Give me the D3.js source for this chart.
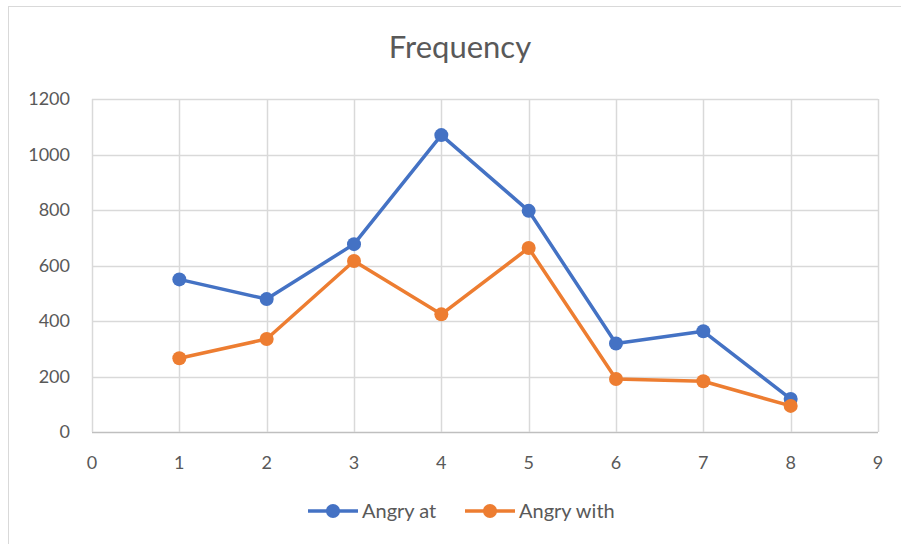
<!DOCTYPE html>
<html>
<head>
<meta charset="utf-8">
<script src="https://cdn.jsdelivr.net/npm/d3@7"></script>
<style>
  body { margin: 0; background: #fff; }
  text { font-family: Lato, "Open Sans", sans-serif; fill: #595959; }
</style>
</head>
<body>
<svg id="chart" width="901" height="544"></svg>
<script>
// data
const xValues = [1, 2, 3, 4, 5, 6, 7, 8];
const angryAt = [550, 479, 677, 1070, 797, 319, 363, 119];
const angryWith = [266, 335, 616, 424, 663, 191, 183, 94];
const xTicks = [0, 1, 2, 3, 4, 5, 6, 7, 8, 9];
const yTicks = [0, 200, 400, 600, 800, 1000, 1200];
const seriesNames = ["Angry at", "Angry with"];
const seriesColors = ["#4472C4", "#ED7D31"];

var svg = d3.select("#chart");
const plotLeft = 92, plotRight = 878, plotTop = 99, plotBottom = 432;

// chart border
svg.append("rect")
  .attr("x", 8.5).attr("y", 6.5)
  .attr("width", 1000).attr("height", 1000)
  .attr("fill", "none").attr("stroke", "#d9d9d9");

var x = d3.scaleLinear().domain([0, 9]).range([plotLeft, plotRight]);
var y = d3.scaleLinear().domain([0, 1200]).range([plotBottom, plotTop]);

// gridlines
svg.append("g").selectAll("line").data(yTicks).join("line")
  .attr("x1", plotLeft).attr("x2", plotRight)
  .attr("y1", (d) => Math.round(y(d)) + 0.5).attr("y2", (d) => Math.round(y(d)) + 0.5)
  .attr("stroke", (d) => (d === 0 ? "#bfbfbf" : "#d9d9d9"))
  .attr("stroke-width", 1.5);
svg.append("g").selectAll("line").data(xTicks).join("line")
  .attr("x1", (d) => Math.round(x(d)) + 0.5).attr("x2", (d) => Math.round(x(d)) + 0.5)
  .attr("y1", plotTop).attr("y2", plotBottom)
  .attr("stroke", "#d9d9d9")
  .attr("stroke-width", 1.5);

// tick labels
svg.append("g").selectAll("text").data(yTicks).join("text")
  .attr("x", 70).attr("y", (d) => y(d))
  .attr("dy", "0.35em")
  .attr("text-anchor", "end")
  .attr("font-size", "18px")
  .text((d) => d);
svg.append("g").selectAll("text").data(xTicks).join("text")
  .attr("x", (d) => x(d)).attr("y", 463)
  .attr("dy", "0.35em")
  .attr("text-anchor", "middle")
  .attr("font-size", "18px")
  .text((d) => d);

// title
svg.append("text")
  .attr("x", 460).attr("y", 58)
  .attr("text-anchor", "middle")
  .attr("font-size", "31px")
  .text("Frequency");

// lines and markers
var line = d3.line().x((d, i) => x(xValues[i])).y((d) => y(d));
[angryAt, angryWith].forEach(function (vals, k) {
  svg.append("path")
    .datum(vals)
    .attr("d", line)
    .attr("fill", "none")
    .attr("stroke", seriesColors[k])
    .attr("stroke-width", 3.5)
    .attr("stroke-linejoin", "round");
  svg.append("g").selectAll("circle").data(vals).join("circle")
    .attr("cx", (d, i) => x(xValues[i]))
    .attr("cy", (d) => y(d))
    .attr("r", 7)
    .attr("fill", seriesColors[k]);
});

// legend
const legendX = [308, 465];
seriesNames.forEach(function (name, k) {
  var g = svg.append("g").attr("transform", "translate(" + legendX[k] + ",511)");
  g.append("line").attr("x1", 0).attr("x2", 50).attr("y1", 0).attr("y2", 0)
    .attr("stroke", seriesColors[k]).attr("stroke-width", 3.5);
  g.append("circle").attr("cx", 25).attr("cy", 0).attr("r", 7).attr("fill", seriesColors[k]);
  g.append("text").attr("x", 54).attr("y", 0).attr("dy", "0.35em")
    .attr("font-size", "20px").text(name);
});
</script>
</body>
</html>
